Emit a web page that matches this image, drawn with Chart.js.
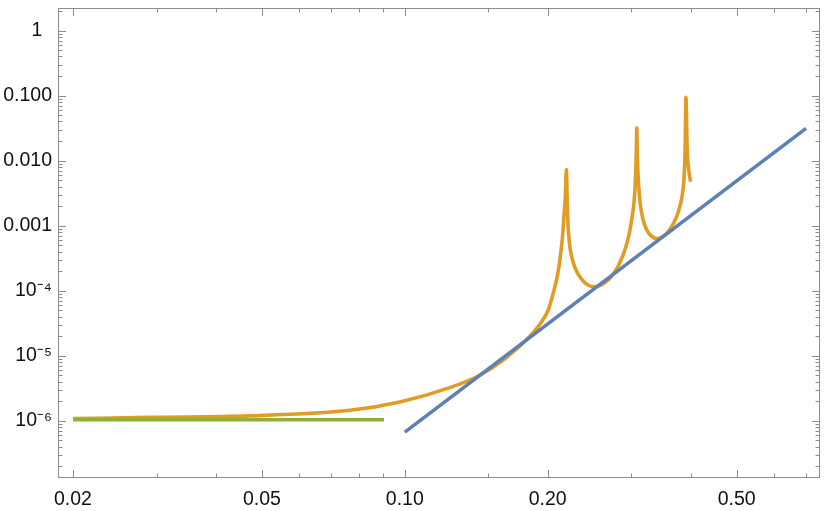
<!DOCTYPE html>
<html lang="es">
<head>
<meta charset="utf-8">
<title>Gráfico log-log</title>
<script src="https://cdn.jsdelivr.net/npm/chart.js@4.4.1/dist/chart.umd.min.js"></script>
<style>
  html, body { margin: 0; padding: 0; background: #fff; }
  #lienzo { display: block; }
</style>
</head>
<body>
<canvas id="lienzo" width="830" height="511"></canvas>
<script>
// marcas de los ejes
const xMayores = [0.02, 0.05, 0.1, 0.2, 0.5];
const xEtiquetas = ["0.02", "0.05", "0.10", "0.20", "0.50"];
const xMenores = [0.03, 0.04, 0.06, 0.07, 0.08, 0.09, 0.15, 0.3, 0.4, 0.6, 0.7];

const yMayores = [1e-6, 1e-5, 1e-4, 0.001, 0.01, 0.1, 1];
const yEtiquetas = ["10⁻⁶", "10⁻⁵", "10⁻⁴", "0.001", "0.010", "0.100", "1\u2002"];
const yDecadas = [1e-7, 1e-6, 1e-5, 1e-4, 0.001, 0.01, 0.1, 1];
const yFactores = [2, 3, 4, 5, 6, 7, 8, 9];

// recta (azul)
const rectaX = [0.1, 0.7];
const rectaY = [6.7e-7, 0.0313];

// tramo plano (verde)
const planaX = [0.02, 0.0904];
const planaY = [1.04e-6, 1.04e-6];

// curva con picos (naranja)
const curvaX = [0.02, 0.029, 0.0471, 0.0766, 0.0976, 0.1244, 0.1425, 0.1624, 0.1834, 0.1925,
  0.2004, 0.2053, 0.2091, 0.2121, 0.2147, 0.2166, 0.2179, 0.2189,
  0.2198, 0.2207, 0.2221, 0.2243, 0.2276, 0.2321, 0.2377, 0.2436, 0.2490, 0.2551,
  0.2626, 0.2704, 0.2783, 0.2852, 0.2915, 0.2965, 0.3008, 0.3042, 0.3063, 0.3075, 0.3079,
  0.3090, 0.3108, 0.3135, 0.3173, 0.3227, 0.3299, 0.3391, 0.3480, 0.3565, 0.3652,
  0.3733, 0.3797, 0.3843, 0.3877, 0.3896, 0.3909, 0.3934, 0.3963, 0.3999];
const curvaY = [1.08e-6, 1.13e-6, 1.19e-6, 1.45e-6, 1.95e-6, 3.24e-6, 4.84e-6, 9.0e-6, 2.0e-5, 3.05e-5,
  5.01e-5, 9.06e-5, 1.557e-4, 2.945e-4, 6.42e-4, 1.541e-3, 2.945e-3, 7.32e-3,
  2.469e-3, 1.018e-3, 5.57e-4, 3.52e-4, 2.381e-4, 1.763e-4, 1.4e-4, 1.215e-4, 1.152e-4, 1.173e-4,
  1.304e-4, 1.557e-4, 2.067e-4, 2.945e-4, 4.507e-4, 7.14e-4, 1.304e-3, 2.469e-3, 5.98e-3, 0.01732, 0.03196,
  0.01018, 4.198e-3, 2.067e-3, 1.259e-3, 8.84e-4, 7.02e-4, 6.31e-4, 6.65e-4, 7.66e-4, 9.82e-4,
  1.351e-3, 1.995e-3, 3.052e-3, 5.98e-3, 0.01732, 0.0938, 0.01451, 7.14e-3, 4.72e-3];

const COLOR_MARCO = "#8c8c8c";
const FUENTE = { family: "'Liberation Sans', Arial, sans-serif", size: 19.5 };

function puntos(xs, ys) {
  return xs.map((x, i) => ({ x, y: ys[i] }));
}

function menoresY() {
  const lista = [];
  yDecadas.forEach((d) => yFactores.forEach((f) => lista.push(f * d)));
  return lista;
}

function sinRelleno(s) {
  s.paddingTop = 0;
  s.paddingBottom = 0;
  s.paddingLeft = 0;
  s.paddingRight = 0;
}

// marco tipo Mathematica con marcas hacia dentro en los cuatro lados
const marco = {
  id: "marco",
  afterDatasetsDraw(chart) {
    const { ctx, chartArea: a, scales: { x, y } } = chart;
    ctx.save();
    ctx.strokeStyle = COLOR_MARCO;
    ctx.lineWidth = 1;
    ctx.strokeRect(a.left + 0.5, a.top + 0.5, a.right - a.left - 1, a.bottom - a.top - 1);
    ctx.beginPath();
    const marcaX = (v, largo) => {
      if (v < x.min || v > x.max) return;
      const px = Math.round(x.getPixelForValue(v)) + 0.5;
      ctx.moveTo(px, a.bottom); ctx.lineTo(px, a.bottom - largo);
      ctx.moveTo(px, a.top); ctx.lineTo(px, a.top + largo);
    };
    const marcaY = (v, largo) => {
      if (v < y.min || v > y.max) return;
      const py = Math.round(y.getPixelForValue(v)) + 0.5;
      ctx.moveTo(a.left, py); ctx.lineTo(a.left + largo, py);
      ctx.moveTo(a.right, py); ctx.lineTo(a.right - largo, py);
    };
    xMayores.forEach((v) => marcaX(v, 8));
    xMenores.forEach((v) => marcaX(v, 4.5));
    yMayores.forEach((v) => marcaY(v, 8));
    menoresY().forEach((v) => marcaY(v, 4.5));
    ctx.stroke();
    ctx.restore();
  }
};

function init() {
  const canvas = document.getElementById("lienzo");
  new Chart(canvas, {
    type: "line",
    data: {
      datasets: [
        { label: "recta", data: puntos(rectaX, rectaY), borderColor: "#5e81b5" },
        { label: "plana", data: puntos(planaX, planaY), borderColor: "#8fb032" },
        { label: "curva", data: puntos(curvaX, curvaY), borderColor: "#e19c24", cubicInterpolationMode: "monotone" }
      ]
    },
    options: {
      responsive: false,
      animation: false,
      layout: { padding: { top: 8, right: 10, left: 0, bottom: 0 } },
      plugins: { legend: { display: false }, tooltip: { enabled: false } },
      elements: {
        point: { radius: 0 },
        line: { borderWidth: 3.6, borderCapStyle: "butt", borderJoinStyle: "round", fill: false }
      },
      scales: {
        x: {
          type: "logarithmic",
          min: 0.0186,
          max: 0.749,
          grid: { display: false, drawTicks: false },
          border: { display: false },
          afterBuildTicks: (s) => { s.ticks = xMayores.map((v) => ({ value: v })); },
          afterFit: (s) => { s.height = 33; sinRelleno(s); },
          ticks: {
            autoSkip: false, maxRotation: 0, minRotation: 0, padding: 10,
            color: "#111", font: FUENTE,
            callback: (v) => { const i = xMayores.indexOf(v); return i >= 0 ? xEtiquetas[i] : ""; }
          }
        },
        y: {
          type: "logarithmic",
          min: 1.32e-7,
          max: 2.22,
          grid: { display: false, drawTicks: false },
          border: { display: false },
          afterBuildTicks: (s) => { s.ticks = yMayores.map((v) => ({ value: v })); },
          afterFit: (s) => { s.width = 58; sinRelleno(s); },
          ticks: {
            autoSkip: false, padding: 6,
            color: "#111", font: FUENTE,
            callback: (v) => { const i = yMayores.indexOf(v); return i >= 0 ? yEtiquetas[i] : ""; }
          }
        }
      }
    },
    plugins: [marco]
  });
}

if (document.readyState === "loading") {
  document.addEventListener("DOMContentLoaded", init);
} else {
  init();
}
</script>
</body>
</html>
